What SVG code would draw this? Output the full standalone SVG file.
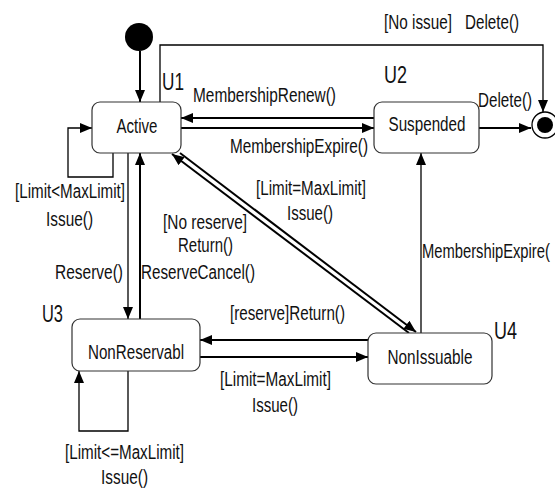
<svg xmlns="http://www.w3.org/2000/svg" width="555" height="490" viewBox="0 0 555 490">
  <style>
    text { font-family: "Liberation Sans", Arial, sans-serif; font-size: 20px; fill: #111; }
    .tag { font-size: 23px; }
    .mid { text-anchor: middle; }
    .state { fill: #fff; stroke: #333; stroke-width: 1.2; }
    .edge { fill: none; stroke: #000; stroke-width: 2; }
    .thin { fill: none; stroke: #000; stroke-width: 1.3; }
  </style>
  <defs>
    <marker id="arrow" viewBox="0 0 12 10" refX="12" refY="5" markerWidth="12" markerHeight="10" orient="auto" markerUnits="userSpaceOnUse">
      <path d="M0,0 L12,5 L0,10 z" fill="#000"/>
    </marker>
  </defs>
  <rect width="555" height="490" fill="#fff"/>

  <!-- connectors -->
  <g id="connectors">
    <path class="edge" d="M140,51 V102" marker-end="url(#arrow)"/>
    <path class="thin" d="M160,102 V45 H543 V112" marker-end="url(#arrow)"/>
    <path class="edge" d="M374,118 H181" marker-end="url(#arrow)"/>
    <path class="edge" d="M181,128 H374" marker-end="url(#arrow)"/>
    <path class="edge" d="M479,128 H531" marker-end="url(#arrow)"/>
    <path class="thin" d="M113,153 V177 H68 V128 H92" marker-end="url(#arrow)"/>
    <path class="thin" d="M128,153 V319" marker-end="url(#arrow)"/>
    <path class="edge" d="M140,319 V153" marker-end="url(#arrow)"/>
    <path class="thin" d="M128,371 V431 H79 V371" marker-end="url(#arrow)"/>
    <path class="edge" d="M368,340 H200" marker-end="url(#arrow)"/>
    <path class="edge" d="M200,357 H368" marker-end="url(#arrow)"/>
    <path class="thin" d="M421,333 V153" marker-end="url(#arrow)"/>
    <path class="edge" d="M409,333 L172,154" marker-end="url(#arrow)"/>
    <path class="edge" d="M180,153 L416,332" marker-end="url(#arrow)"/>
  </g>

  <!-- pseudo states -->
  <g id="initial">
    <circle cx="139" cy="37" r="14" fill="#000"/>
  </g>
  <g id="final">
    <circle cx="545" cy="125" r="13" fill="#fff" stroke="#000" stroke-width="1.3"/>
    <circle cx="545" cy="125" r="8" fill="#000"/>
  </g>

  <!-- states -->
  <g id="active">
    <rect class="state" x="92" y="102" width="89" height="51" rx="8"/>
    <text x="137" y="133" class="mid" textLength="41" lengthAdjust="spacingAndGlyphs">Active</text>
  </g>
  <g id="suspended">
    <rect class="state" x="374" y="102" width="105" height="51" rx="8"/>
    <text x="427" y="131" class="mid" textLength="77" lengthAdjust="spacingAndGlyphs">Suspended</text>
  </g>
  <g id="nonreservable">
    <rect class="state" x="72" y="319" width="128" height="52" rx="8"/>
    <text x="136" y="359" class="mid" textLength="96" lengthAdjust="spacingAndGlyphs">NonReservabl</text>
  </g>
  <g id="nonissuable">
    <rect class="state" x="368" y="333" width="124" height="51" rx="8"/>
    <text x="430" y="364" class="mid" textLength="85" lengthAdjust="spacingAndGlyphs">NonIssuable</text>
  </g>

  <!-- state tags -->
  <g id="tags">
    <text class="tag" x="162" y="90" textLength="22" lengthAdjust="spacingAndGlyphs">U1</text>
    <text class="tag" x="384" y="83" textLength="23" lengthAdjust="spacingAndGlyphs">U2</text>
    <text class="tag" x="42" y="322" textLength="21" lengthAdjust="spacingAndGlyphs">U3</text>
    <text class="tag" x="494" y="339" textLength="23" lengthAdjust="spacingAndGlyphs">U4</text>
  </g>

  <!-- transition labels -->
  <g id="labels">
    <text transform="translate(384,29) scale(0.765,1)" x="0" y="0">[No issue]</text>
    <text transform="translate(465,29) scale(0.76,1)" x="0" y="0">Delete()</text>
    <text x="193" y="102" textLength="143" lengthAdjust="spacingAndGlyphs">MembershipRenew()</text>
    <text x="478" y="107" textLength="54" lengthAdjust="spacingAndGlyphs">Delete()</text>
    <text x="230" y="153" textLength="138" lengthAdjust="spacingAndGlyphs">MembershipExpire()</text>
    <text x="256" y="195" textLength="110" lengthAdjust="spacingAndGlyphs">[Limit=MaxLimit]</text>
    <text x="287" y="220" textLength="46" lengthAdjust="spacingAndGlyphs">Issue()</text>
    <text x="15" y="198" textLength="110" lengthAdjust="spacingAndGlyphs">[Limit&lt;MaxLimit]</text>
    <text x="46" y="226" textLength="47" lengthAdjust="spacingAndGlyphs">Issue()</text>
    <text x="163" y="229" textLength="84" lengthAdjust="spacingAndGlyphs">[No reserve]</text>
    <text x="178" y="252" textLength="55" lengthAdjust="spacingAndGlyphs">Return()</text>
    <text x="141" y="279" textLength="114" lengthAdjust="spacingAndGlyphs">ReserveCancel()</text>
    <text x="55" y="279" textLength="68" lengthAdjust="spacingAndGlyphs">Reserve()</text>
    <text x="230" y="320" textLength="115" lengthAdjust="spacingAndGlyphs">[reserve]Return()</text>
    <text transform="translate(422,258) scale(0.738,1)" x="0" y="0">MembershipExpire(</text>
    <text x="220" y="386" textLength="111" lengthAdjust="spacingAndGlyphs">[Limit=MaxLimit]</text>
    <text x="252" y="412" textLength="46" lengthAdjust="spacingAndGlyphs">Issue()</text>
    <text x="65" y="459" textLength="119" lengthAdjust="spacingAndGlyphs">[Limit&lt;=MaxLimit]</text>
    <text x="101" y="484" textLength="47" lengthAdjust="spacingAndGlyphs">Issue()</text>
  </g>
</svg>
